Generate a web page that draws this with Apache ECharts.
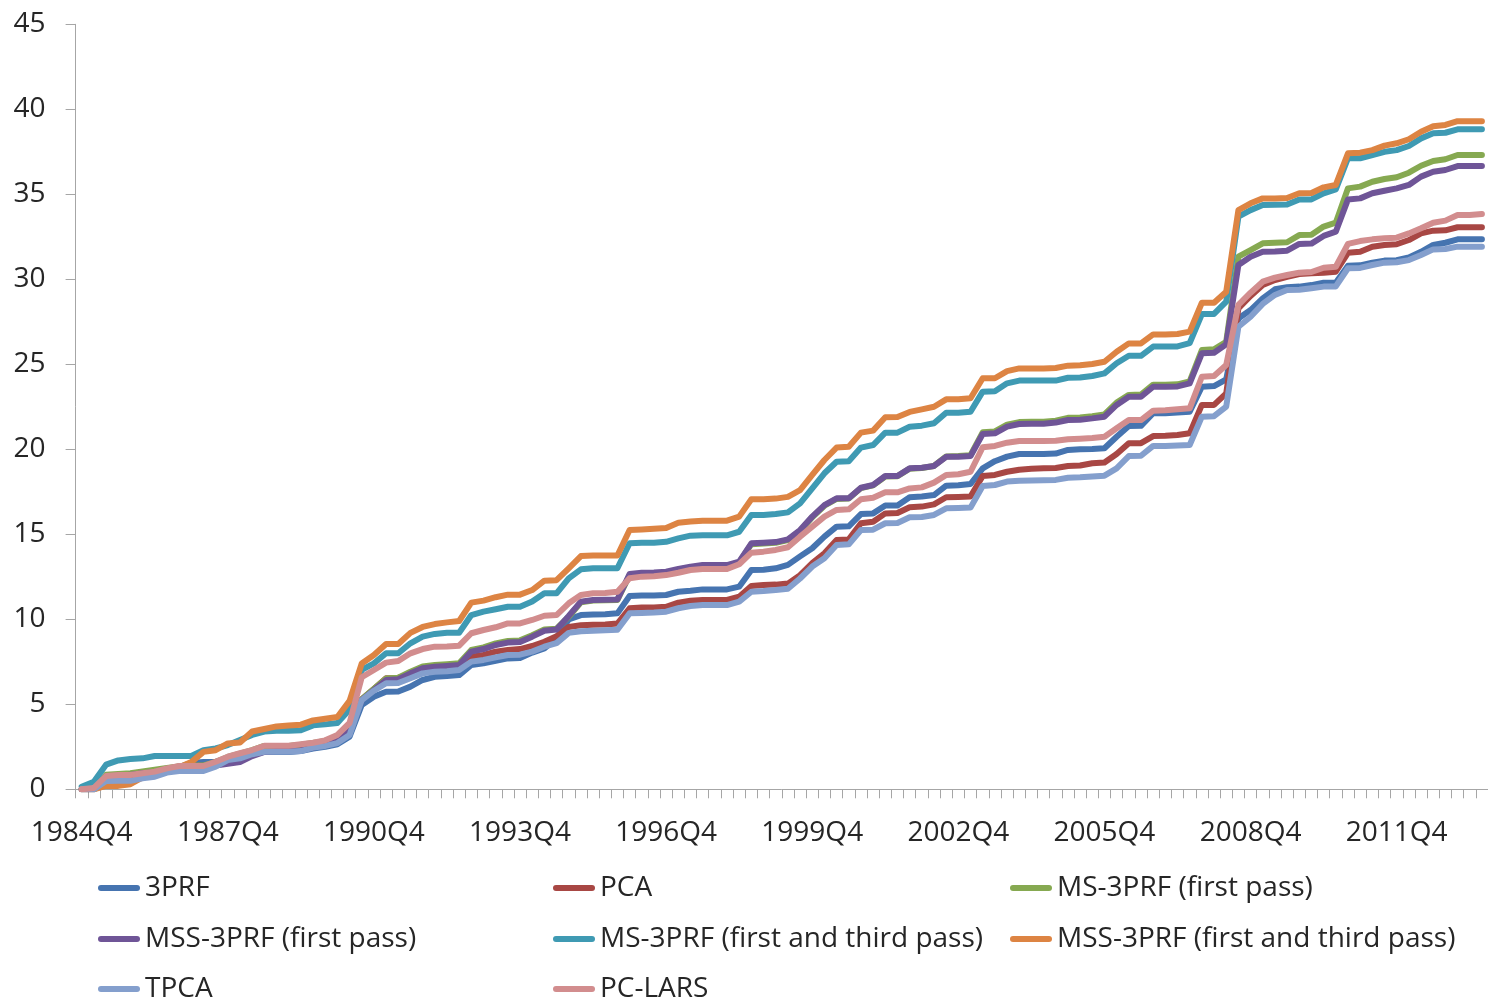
<!DOCTYPE html>
<html>
<head>
<meta charset="utf-8">
<script src="https://cdn.jsdelivr.net/npm/echarts@6/dist/echarts.min.js"></script>
<style>
html,body{margin:0;padding:0;background:#fff;}
#chart{width:1488px;height:1002px;}
</style>
</head>
<body>
<div id="chart"></div>
<script>
// Categories: quarters 1984Q4 .. 2013Q3
const categories = [];
(function(){ let y = 1984, q = 4; for (let k = 0; k < 116; k++) { categories.push(y + 'Q' + q); q++; if (q > 4) { q = 1; y++; } } })();

const yTicks = [0, 5, 10, 15, 20, 25, 30, 35, 40, 45];

const seriesNames = ['3PRF', 'PCA', 'MS-3PRF (first pass)', 'MSS-3PRF (first pass)',
  'MS-3PRF (first and third pass)', 'MSS-3PRF (first and third pass)', 'TPCA', 'PC-LARS'];

const s3PRF = [0,0,0.55,0.6,0.65,0.75,0.85,1.05,1.3,1.55,1.6,1.62,1.7,1.9,2.05,2.2,2.2,2.2,2.25,2.4,2.5,2.65,3.1,4.96,5.45,5.74,5.75,6.04,6.43,6.62,6.66,6.72,7.31,7.41,7.56,7.7,7.72,8.04,8.29,8.9,10.0,10.25,10.28,10.3,10.35,11.37,11.4,11.4,11.43,11.62,11.68,11.76,11.76,11.76,11.92,12.9,12.92,13.0,13.2,13.7,14.18,14.86,15.45,15.47,16.19,16.23,16.69,16.7,17.18,17.22,17.31,17.86,17.88,17.96,18.88,19.3,19.57,19.72,19.72,19.72,19.75,19.96,20.0,20.02,20.06,20.74,21.37,21.38,22.12,22.12,22.16,22.21,23.68,23.72,24.12,27.7,28.19,28.88,29.41,29.53,29.57,29.66,29.8,29.8,30.8,30.82,30.98,31.1,31.12,31.29,31.62,32.02,32.15,32.35,32.35,32.35];

const sPCA = [0,0,0.7,0.75,0.8,0.9,1.0,1.2,1.35,1.38,1.38,1.6,1.85,2.05,2.25,2.45,2.45,2.5,2.55,2.65,2.8,3.05,3.6,5.3,5.9,6.53,6.55,6.8,7.0,7.1,7.15,7.2,7.8,7.9,8.1,8.2,8.25,8.43,8.68,9.0,9.55,9.65,9.68,9.7,9.75,10.65,10.7,10.7,10.74,10.98,11.09,11.14,11.14,11.14,11.33,11.96,12.02,12.04,12.1,12.6,13.3,13.88,14.66,14.7,15.65,15.74,16.23,16.25,16.59,16.63,16.76,17.18,17.2,17.22,18.43,18.49,18.68,18.8,18.85,18.88,18.9,19.02,19.05,19.18,19.22,19.72,20.35,20.36,20.78,20.8,20.84,20.94,22.61,22.61,23.29,28.29,29.02,29.66,29.96,30.15,30.31,30.35,30.39,30.45,31.56,31.62,31.92,32.02,32.06,32.31,32.7,32.86,32.88,33.06,33.06,33.06];

const sMS1 = [0,0,0.85,0.9,0.95,1.05,1.15,1.25,1.35,1.4,1.4,1.6,1.9,2.1,2.3,2.55,2.55,2.55,2.62,2.72,2.85,3.1,3.7,5.3,5.92,6.52,6.56,6.92,7.22,7.31,7.36,7.41,8.2,8.35,8.58,8.72,8.76,9.06,9.4,9.45,10.15,11.0,11.1,11.12,11.14,12.6,12.68,12.7,12.75,12.92,13.05,13.15,13.15,13.15,13.35,14.42,14.46,14.5,14.66,15.2,16.0,16.68,17.08,17.1,17.72,17.88,18.4,18.42,18.86,18.9,19.02,19.58,19.6,19.65,21.0,21.05,21.45,21.6,21.62,21.62,21.68,21.85,21.87,21.95,22.05,22.75,23.2,23.22,23.8,23.8,23.82,24.0,25.84,25.88,26.33,31.33,31.72,32.12,32.15,32.18,32.6,32.62,33.1,33.33,35.35,35.45,35.74,35.9,36.0,36.27,36.68,36.96,37.06,37.31,37.31,37.31];

const sMSS1 = [0,0,0.75,0.8,0.85,0.95,1.0,1.15,1.3,1.35,1.35,1.4,1.5,1.6,1.95,2.2,2.25,2.25,2.3,2.45,2.6,2.9,3.5,5.25,5.84,6.43,6.47,6.82,7.12,7.21,7.26,7.31,8.1,8.25,8.49,8.63,8.67,8.98,9.33,9.4,10.2,11.04,11.14,11.15,11.17,12.66,12.74,12.75,12.8,12.96,13.09,13.19,13.19,13.19,13.39,14.47,14.51,14.54,14.7,15.25,16.04,16.72,17.12,17.12,17.74,17.9,18.43,18.43,18.88,18.92,19.02,19.56,19.56,19.6,20.9,20.94,21.33,21.49,21.5,21.5,21.57,21.72,21.74,21.82,21.92,22.61,23.09,23.09,23.68,23.68,23.7,23.88,25.65,25.68,26.18,30.84,31.33,31.62,31.64,31.68,32.08,32.1,32.55,32.8,34.7,34.76,35.06,35.21,35.35,35.55,36.04,36.33,36.43,36.66,36.66,36.66];

const sMS13 = [0.15,0.45,1.45,1.7,1.78,1.82,1.96,1.96,1.96,1.96,2.3,2.4,2.6,2.9,3.2,3.4,3.45,3.45,3.47,3.76,3.82,3.9,4.7,7.02,7.41,8.0,8.0,8.59,8.98,9.14,9.21,9.21,10.25,10.45,10.59,10.74,10.74,11.05,11.53,11.53,12.41,12.94,13.0,13.0,13.0,14.47,14.5,14.5,14.56,14.76,14.92,14.94,14.94,14.94,15.15,16.13,16.14,16.19,16.29,16.82,17.7,18.59,19.27,19.3,20.1,20.25,20.98,20.98,21.33,21.39,21.53,22.15,22.15,22.21,23.39,23.42,23.88,24.04,24.04,24.04,24.04,24.21,24.22,24.31,24.47,25.06,25.5,25.5,26.04,26.04,26.05,26.24,27.96,27.96,28.68,33.68,34.07,34.37,34.38,34.4,34.7,34.7,35.06,35.29,37.12,37.12,37.31,37.5,37.6,37.84,38.29,38.59,38.62,38.82,38.82,38.82];

const sMSS13 = [0,0,0.2,0.2,0.3,0.7,0.9,1.1,1.3,1.6,2.2,2.3,2.7,2.75,3.4,3.55,3.7,3.75,3.8,4.05,4.15,4.25,5.2,7.4,7.9,8.55,8.55,9.2,9.55,9.72,9.82,9.9,10.98,11.1,11.3,11.45,11.45,11.72,12.27,12.3,13.0,13.72,13.75,13.75,13.75,15.25,15.28,15.32,15.37,15.68,15.75,15.8,15.8,15.8,16.04,17.06,17.06,17.1,17.2,17.6,18.5,19.37,20.1,20.15,20.98,21.1,21.88,21.9,22.2,22.35,22.5,22.94,22.94,23.0,24.18,24.18,24.6,24.76,24.76,24.76,24.78,24.92,24.95,25.02,25.15,25.74,26.23,26.23,26.76,26.76,26.78,26.92,28.62,28.62,29.27,34.07,34.47,34.76,34.76,34.78,35.06,35.08,35.41,35.55,37.41,37.45,37.6,37.86,38.0,38.24,38.68,39.0,39.08,39.3,39.3,39.3];

const sTPCA = [0,0,0.49,0.5,0.5,0.65,0.74,0.98,1.08,1.08,1.08,1.33,1.72,1.82,2.06,2.21,2.21,2.21,2.25,2.45,2.55,2.72,3.2,5.25,5.8,6.24,6.25,6.53,6.82,6.92,6.95,7.02,7.51,7.61,7.76,7.9,7.92,8.1,8.39,8.6,9.2,9.3,9.33,9.35,9.38,10.35,10.37,10.4,10.45,10.65,10.78,10.84,10.84,10.84,11.04,11.62,11.66,11.72,11.8,12.4,13.1,13.59,14.37,14.41,15.25,15.27,15.65,15.67,16.0,16.02,16.14,16.53,16.55,16.57,17.84,17.9,18.1,18.15,18.17,18.18,18.2,18.33,18.35,18.4,18.45,18.88,19.6,19.62,20.2,20.2,20.22,20.25,21.92,21.95,22.51,27.21,27.8,28.55,29.08,29.37,29.38,29.47,29.57,29.58,30.65,30.67,30.84,30.98,31.0,31.13,31.43,31.76,31.78,31.92,31.92,31.92];

const sPCLARS = [0,0.08,0.78,0.84,0.84,0.94,1.04,1.23,1.37,1.37,1.37,1.62,1.92,2.12,2.31,2.56,2.56,2.56,2.65,2.74,2.88,3.2,3.9,6.59,7.02,7.45,7.55,8.0,8.25,8.39,8.4,8.45,9.18,9.37,9.53,9.76,9.76,9.96,10.21,10.25,10.94,11.43,11.53,11.55,11.62,12.41,12.51,12.53,12.6,12.74,12.9,12.96,12.96,12.96,13.24,13.92,13.98,14.08,14.24,14.86,15.45,16.04,16.43,16.47,17.06,17.15,17.47,17.47,17.7,17.76,18.04,18.49,18.53,18.68,20.12,20.2,20.39,20.49,20.49,20.49,20.5,20.59,20.62,20.66,20.74,21.24,21.72,21.72,22.27,22.3,22.35,22.41,24.27,24.31,24.96,28.5,29.21,29.86,30.1,30.25,30.39,30.43,30.68,30.74,32.08,32.25,32.35,32.41,32.45,32.7,33.0,33.33,33.45,33.78,33.78,33.84];

const seriesData = [s3PRF, sPCA, sMS1, sMSS1, sMS13, sMSS13, sTPCA, sPCLARS];
const colors = ['#4674B0', '#A84744', '#86A951', '#6F5597', '#3F9AB3', '#DD8443', '#849FCD', '#D28D8E'];

// legend grid: column (0..2) and row (0..2) of each series
const legendCol = [0, 1, 2, 0, 1, 2, 0, 1];
const legendRow = [0, 0, 0, 1, 1, 1, 2, 2];

const FONT = 'Open Sans';
const TXT = '#262626';
const AXIS = '#A6A6A6';
const legendIcon = 'path://M3,0 L39,0 A3,3 0 0 1 39,6 L3,6 A3,3 0 0 1 3,0 Z';
const colLeft = [98, 553, 1010];
const rowCenter = [888, 939, 989];

const legends = seriesNames.map(function (n, k) {
  return {
    data: [n], left: colLeft[legendCol[k]], top: rowCenter[legendRow[k]] - 15,
    orient: 'horizontal', padding: 0,
    itemWidth: 42, itemHeight: 6, icon: legendIcon,
    selectedMode: false,
    textStyle: { fontFamily: FONT, fontSize: 28, color: TXT, lineHeight: 30 }
  };
});

const chart = echarts.init(document.getElementById('chart'), null, { renderer: 'canvas' });
chart.setOption({
  animation: false,
  backgroundColor: '#ffffff',
  color: colors,
  grid: { left: 75.6, top: 24.3, width: 1415.2, height: 765, containLabel: false },
  xAxis: {
    type: 'category', data: categories, boundaryGap: true,
    axisLine: { show: true, lineStyle: { color: AXIS, width: 1 } },
    axisTick: { show: true, interval: 0, length: 9, inside: false, lineStyle: { color: AXIS } },
    axisLabel: { interval: 11, margin: 30, fontFamily: FONT, fontSize: 28, color: TXT },
    splitLine: { show: false }
  },
  yAxis: {
    type: 'value', min: 0, max: 45, interval: 5,
    axisLine: { show: true, lineStyle: { color: AXIS, width: 1 } },
    axisTick: { show: true, length: 10, inside: false, lineStyle: { color: AXIS } },
    axisLabel: { margin: 30, fontFamily: FONT, fontSize: 28, color: TXT,
      formatter: function (v) { return yTicks.indexOf(v) >= 0 ? String(v) : ''; } },
    splitLine: { show: false }
  },
  legend: legends,
  series: seriesNames.map(function (n, k) {
    return {
      name: n, type: 'line', data: seriesData[k], symbol: 'none', smooth: false,
      lineStyle: { width: 6, color: colors[k], cap: 'round', join: 'round' },
      itemStyle: { color: colors[k] },
      emphasis: { disabled: true }, z: 2 + k
    };
  })
});
</script>
</body>
</html>
